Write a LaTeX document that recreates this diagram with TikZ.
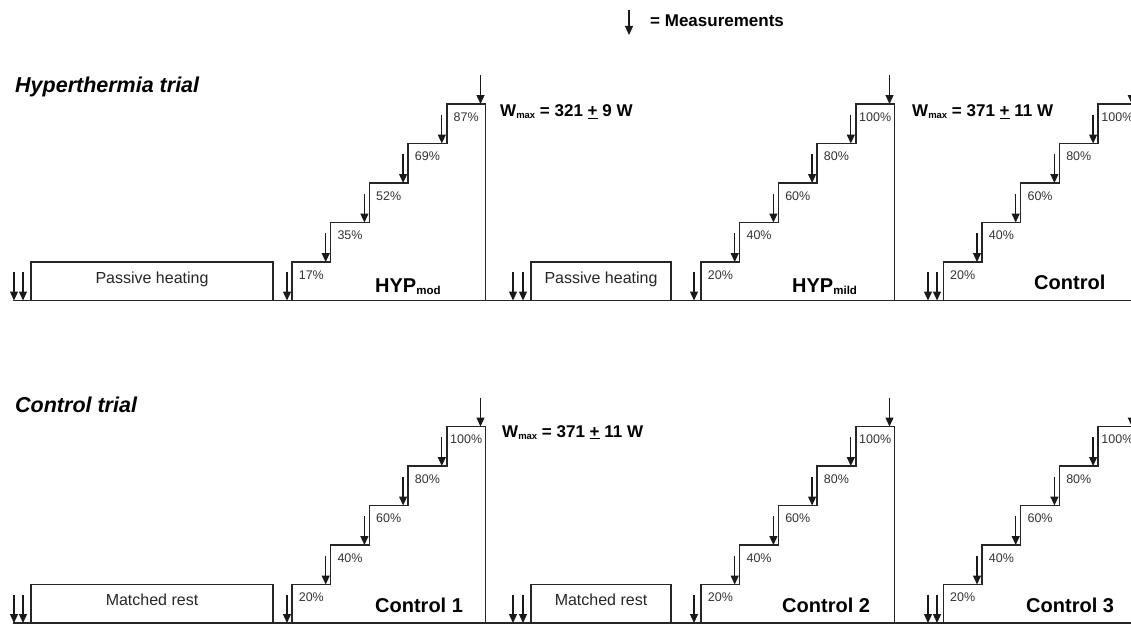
\documentclass[tikz,border=0pt]{standalone}
\usepackage{fontspec}
\setmainfont{Liberation Sans}
\usetikzlibrary{arrows.meta}

\begin{document}
\begin{tikzpicture}[x=1pt,y=-1pt,
            ink/.style={draw=black!85,line width=1.5pt},
            meas/.style={black!90,line width=1.3pt,
                -{Triangle[length=9pt,width=8pt]}},
            pct/.style={text=black!80,inner sep=0pt,
                font=\fontsize{12.5}{14}\selectfont},
            phase/.style={text=black!85,inner sep=0pt,anchor=base,
                font=\fontsize{16}{18}\selectfont},
            cond/.style={inner sep=0pt,anchor=base west,
                font=\bfseries\fontsize{20}{22}\selectfont},
            wmax/.style={inner sep=0pt,anchor=base west,
                font=\bfseries\fontsize{17}{19}\selectfont},
            trial/.style={inner sep=0pt,anchor=base west,
                font=\bfseries\itshape\fontsize{21.5}{24}\selectfont}
        ]
        \useasboundingbox (0,0) rectangle (1131,626);
        \clip (0,0) rectangle (1131,626);

        % legend and row titles
        \draw[meas] (629,10) -- (629,35);
        \node[wmax] (legend) at (650,27) {= Measurements};
        \node[trial] (hyptrial) at (15,92) {Hyperthermia trial};
        \node[trial] (contrial) at (15,412) {Control trial};

        % time axes
        \draw[ink] (13,300.5) -- (1131,300.5);
        \draw[ink] (13,623) -- (1131,623);

        % phase boxes and measurements before exercise
        \foreach \sy/\txt/\nm in {0/Passive heating/t, 322.5/Matched rest/b}{
            \draw[ink] (31,262+\sy) rectangle (273,300.5+\sy);
            \draw[ink] (531,262+\sy) rectangle (671,300.5+\sy);
            \node[phase] (\nm1) at (152,283+\sy) {\txt};
            \node[phase] (\nm2) at (601,283+\sy) {\txt};
            \foreach \ax in {14,23,287,513,523,694,928,937}
                \draw[meas] (\ax,272+\sy) -- (\ax,300.5+\sy);
        }

        % incremental exercise: start / row shift / loads / name
        \foreach \sx/\sy/\loads/\nm in {292/0/{17,35,52,69,87}/a,
                701/0/{20,40,60,80,100}/b, 943.3/0/{20,40,60,80,100}/c,
                292/322.5/{20,40,60,80,100}/d, 701/322.5/{20,40,60,80,100}/e,
                943.3/322.5/{20,40,60,80,100}/f}{
            \draw[ink] (\sx,300.5+\sy) -- ++(0,-38.5) -- ++(38.7,0)
                -- ++(0,-39.5) -- ++(38.7,0) -- ++(0,-39.5) -- ++(38.7,0)
                -- ++(0,-39.5) -- ++(38.7,0) -- ++(0,-39.5) -- ++(38.7,0)
                -- ++(0,196.5);
            \foreach \p [count=\i] in \loads {
                \draw[meas] ({\sx+\i*38.7-5},{233+\sy-(\i-1)*39.5})
                    -- ++(0,29);
                \node[pct] (\nm\i) at ({\sx+(\i-0.5)*38.7},{275+\sy-(\i-1)*39.5})
                    {\p\%};
            }
        }

        % conditions
        \node[cond] (hypmod) at (375,292)
            {HYP\raisebox{-2.5pt}{\fontsize{11.5}{12}\selectfont mod}};
        \node[cond] (hypmild) at (792,292)
            {HYP\raisebox{-2.5pt}{\fontsize{11.5}{12}\selectfont mild}};
        \node[cond] (ctrl) at (1034,289) {Control};
        \node[cond] (ctrl1) at (375,612) {Control 1};
        \node[cond] (ctrl2) at (782,612) {Control 2};
        \node[cond] (ctrl3) at (1026,612) {Control 3};

        % maximal power
        \node[wmax] (wmaxa) at (500,116.5)
            {W\raisebox{-2pt}{\fontsize{9.5}{10}\selectfont max} = 321 \underline{+} 9 W};
        \node[wmax] (wmaxb) at (912,116.5)
            {W\raisebox{-2pt}{\fontsize{9.5}{10}\selectfont max} = 371 \underline{+} 11 W};
        \node[wmax] (wmaxd) at (502,437)
            {W\raisebox{-2pt}{\fontsize{9.5}{10}\selectfont max} = 371 \underline{+} 11 W};
    \end{tikzpicture}
\end{document}
